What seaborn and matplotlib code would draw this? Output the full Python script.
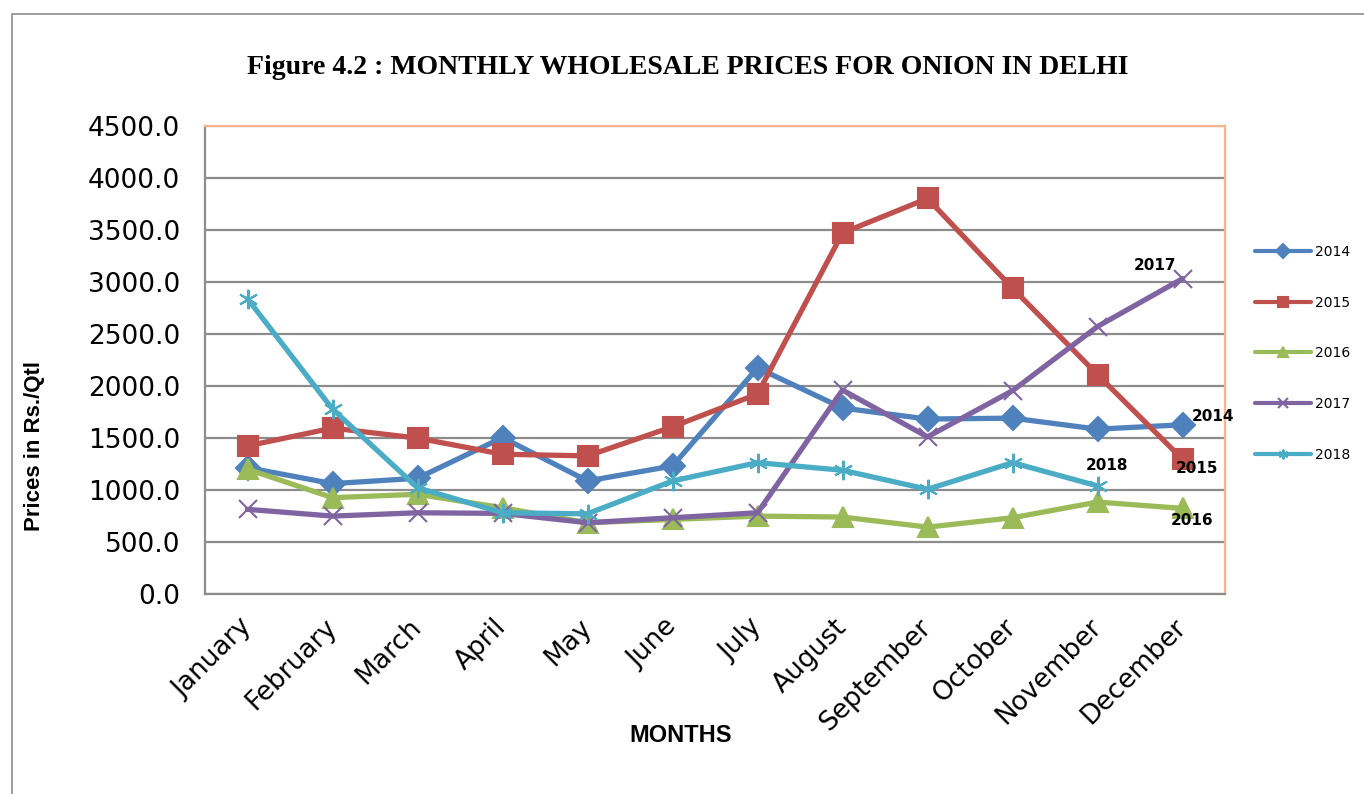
import copy
import numpy as np
import pandas as pd
import matplotlib
matplotlib.use("Agg")
import matplotlib.pyplot as plt
import seaborn as sns
from matplotlib.patches import Rectangle

# -------------------------
# Data
# -------------------------
months = ["January", "February", "March", "April", "May", "June",
          "July", "August", "September", "October", "November", "December"]
years = ["2014", "2015", "2016", "2017", "2018"]

prices_2014 = [1215, 1061, 1113, 1504, 1087, 1231, 2174, 1788, 1682, 1691, 1585, 1627]
prices_2015 = [1424, 1595, 1499, 1344, 1328, 1608, 1923, 3472, 3803, 2941, 2109, 1296]
prices_2016 = [1200, 926, 959, 829, 685, 717, 749, 740, 643, 733, 884, 823]
prices_2017 = [814, 749, 781, 775, 685, 733, 781, 1961, 1511, 1955, 2572, 3032]
prices_2018 = [2839, 1778, 1022, 781, 771, 1087, 1263, 1190, 1007, 1263, 1039, np.nan]

y_ticks = [0, 500, 1000, 1500, 2000, 2500, 3000, 3500, 4000, 4500]

# -------------------------
# Styling
# -------------------------
palette = {"2014": "#4F81BD", "2015": "#C0504D", "2016": "#9BBB59",
           "2017": "#8064A2", "2018": "#4BACC6"}
markers = {"2014": "D", "2015": "s", "2016": "^", "2017": "x", "2018": (6, 2, 0)}
marker_sizes = {"2014": 12, "2015": 14, "2016": 14, "2017": 13, "2018": 14}

df = pd.DataFrame({
    "Month": months * 5,
    "Year": np.repeat(years, 12),
    "Price": prices_2014 + prices_2015 + prices_2016 + prices_2017 + prices_2018,
})

sns.set_style("white")
plt.rcParams["font.family"] = ["DejaVu Sans"]
plt.rcParams["text.color"] = "black"
plt.rcParams["axes.labelcolor"] = "black"
plt.rcParams["xtick.labelcolor"] = "black"
plt.rcParams["ytick.labelcolor"] = "black"

fig = plt.figure(figsize=(13.64, 7.94), dpi=100)
ax = fig.add_axes([0.1503, 0.2519, 0.7478, 0.5894])

for yr in years:
    sub = df[df["Year"] == yr].dropna()
    sns.lineplot(data=sub, x="Month", y="Price", color=palette[yr],
                 marker=markers[yr], markersize=marker_sizes[yr],
                 markeredgecolor=palette[yr], markeredgewidth=1.5,
                 linewidth=3.8, label=yr, ax=ax, sort=False)

ax.set_xlim(-0.5, 11.5)
ax.set_ylim(0, 4500)
ax.set_yticks(y_ticks)
ax.set_yticklabels([f"{v:.1f}" for v in y_ticks], fontsize=19)
ax.grid(axis="y", color="#8C8C8C", linewidth=1.6)
ax.set_axisbelow(True)

for s in ["left", "bottom"]:
    ax.spines[s].set_color("#8C8C8C")
    ax.spines[s].set_linewidth(1.6)
for s in ["top", "right"]:
    ax.spines[s].set_color("#F9B48C")
    ax.spines[s].set_linewidth(1.6)

ax.tick_params(axis="y", length=4, color="#8C8C8C", labelcolor="black", pad=14)
ax.tick_params(axis="x", length=0, labelcolor="black", pad=21)
plt.setp(ax.get_xticklabels(), rotation=45, ha="right", va="center",
         rotation_mode="anchor", fontsize=19)

ax.set_ylabel("Prices in Rs./Qtl", fontsize=16, fontweight="bold",
              family=["Liberation Sans"])
ax.yaxis.set_label_coords(-0.157, 0.316)
ax.set_xlabel("MONTHS", fontsize=17, fontweight="bold", family=["Liberation Sans"])
ax.xaxis.set_label_coords(0.466, -0.278)

# data labels at the series ends
label_kw = dict(textcoords="offset pixels", fontsize=11, fontweight="bold")
ax.annotate("2017", xy=(11, prices_2017[11]), xytext=(-6, 6), ha="right", va="bottom", **label_kw)
ax.annotate("2014", xy=(11, prices_2014[11]), xytext=(9, 8), ha="left", va="center", **label_kw)
ax.annotate("2015", xy=(11, prices_2015[11]), xytext=(-7, -9), ha="left", va="center", **label_kw)
ax.annotate("2016", xy=(11, prices_2016[11]), xytext=(-12, -12), ha="left", va="center", **label_kw)
ax.annotate("2018", xy=(10, prices_2018[10]), xytext=(9, 20), ha="center", va="center", **label_kw)

# legend outside on the right (copies, so the plotted lines keep their size)
handles, labels = ax.get_legend_handles_labels()
leg_handles = []
for h in handles:
    h2 = copy.copy(h)
    h2.set_linewidth(3.0)
    h2.set_markersize(7)
    leg_handles.append(h2)
ax.legend(leg_handles, labels, loc="center left", bbox_to_anchor=(0.911, 0.555),
          bbox_transform=fig.transFigure, frameon=False, fontsize=10,
          handlelength=4.0, labelspacing=2.65, handletextpad=0.3)

fig.text(0.504, 1 - 68 / 794, "Figure 4.2 : MONTHLY WHOLESALE PRICES FOR ONION IN DELHI",
         ha="center", va="center", fontsize=20, fontweight="bold",
         family=["Liberation Serif"])

# outer chart frame
fig.patches.append(Rectangle((12 / 1364, -0.05), 1.1, 1 - 14 / 794 + 0.05,
                             transform=fig.transFigure, fill=False,
                             edgecolor="#8C8C8C", linewidth=1.2))

fig.savefig("out.png", dpi=100)
